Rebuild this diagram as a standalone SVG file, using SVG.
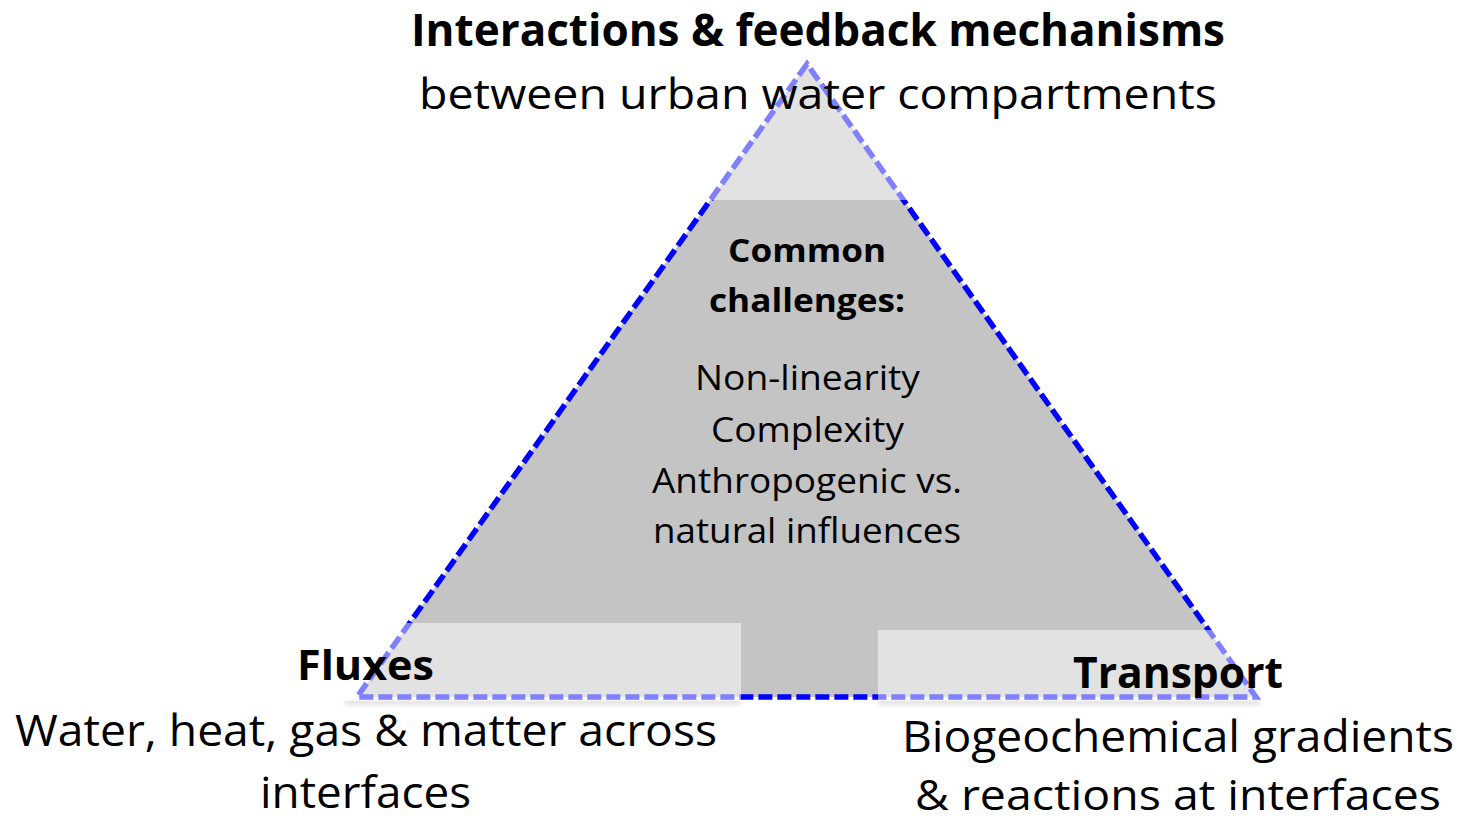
<svg xmlns="http://www.w3.org/2000/svg" width="1462" height="822" viewBox="0 0 1462 822">
  <defs>
    <style>
      text { font-family: "Open Sans", "Noto Sans", "Liberation Sans", sans-serif; fill: #000; text-anchor: middle; }
      .b { font-weight: 700; }
      .veil { fill: #ffffff; fill-opacity: 0.5; }
      .shadow { fill: #000; fill-opacity: 0.12; }
    </style>
    <filter id="blur" x="-10%" y="-50%" width="120%" height="200%">
      <feGaussianBlur stdDeviation="2"/>
    </filter>
  </defs>
  <rect width="1462" height="822" fill="#ffffff"/>

  <g id="triangle">
    <polygon points="807,64 357,697 1256,697" fill="#c4c4c4" stroke="#0000ff" stroke-width="5.5" stroke-dasharray="14 5" stroke-linejoin="miter"/>
  </g>

  <g id="overlays">
    <rect class="shadow" x="345" y="700" width="396" height="5" filter="url(#blur)"/>
    <rect class="shadow" x="878" y="700" width="382" height="5" filter="url(#blur)"/>
    <rect class="veil" x="600" y="30" width="414" height="170"/>
    <rect class="veil" x="340" y="623" width="401" height="78"/>
    <rect class="veil" x="878" y="630" width="384" height="71"/>
  </g>

  <g id="connectors"></g>

  <g id="node-top">
    <text class="b" x="818" y="46" font-size="44" textLength="814" lengthAdjust="spacingAndGlyphs">Interactions &amp; feedback mechanisms</text>
    <text x="818" y="109" font-size="42" textLength="798" lengthAdjust="spacingAndGlyphs">between urban water compartments</text>
  </g>

  <g id="node-center">
    <text class="b" x="807" y="262" font-size="32" textLength="158" lengthAdjust="spacingAndGlyphs">Common</text>
    <text class="b" x="807" y="312" font-size="32" textLength="196" lengthAdjust="spacingAndGlyphs">challenges:</text>
    <text x="807.5" y="390" font-size="35" textLength="225" lengthAdjust="spacingAndGlyphs">Non-linearity</text>
    <text x="807.5" y="442" font-size="35" textLength="193" lengthAdjust="spacingAndGlyphs">Complexity</text>
    <text x="807" y="493" font-size="35" textLength="310" lengthAdjust="spacingAndGlyphs">Anthropogenic vs.</text>
    <text x="807" y="543" font-size="35" textLength="308" lengthAdjust="spacingAndGlyphs">natural influences</text>
  </g>

  <g id="node-fluxes">
    <text class="b" x="365.5" y="680" font-size="41" textLength="137" lengthAdjust="spacingAndGlyphs">Fluxes</text>
    <text x="366" y="746" font-size="44" textLength="702" lengthAdjust="spacingAndGlyphs">Water, heat, gas &amp; matter across</text>
    <text x="365.5" y="808" font-size="44" textLength="211" lengthAdjust="spacingAndGlyphs">interfaces</text>
  </g>

  <g id="node-transport">
    <text class="b" x="1178" y="688" font-size="43" textLength="210" lengthAdjust="spacingAndGlyphs">Transport</text>
    <text x="1178" y="752" font-size="44" textLength="552" lengthAdjust="spacingAndGlyphs">Biogeochemical gradients</text>
    <text x="1178" y="810" font-size="42" textLength="526" lengthAdjust="spacingAndGlyphs">&amp; reactions at interfaces</text>
  </g>
</svg>
